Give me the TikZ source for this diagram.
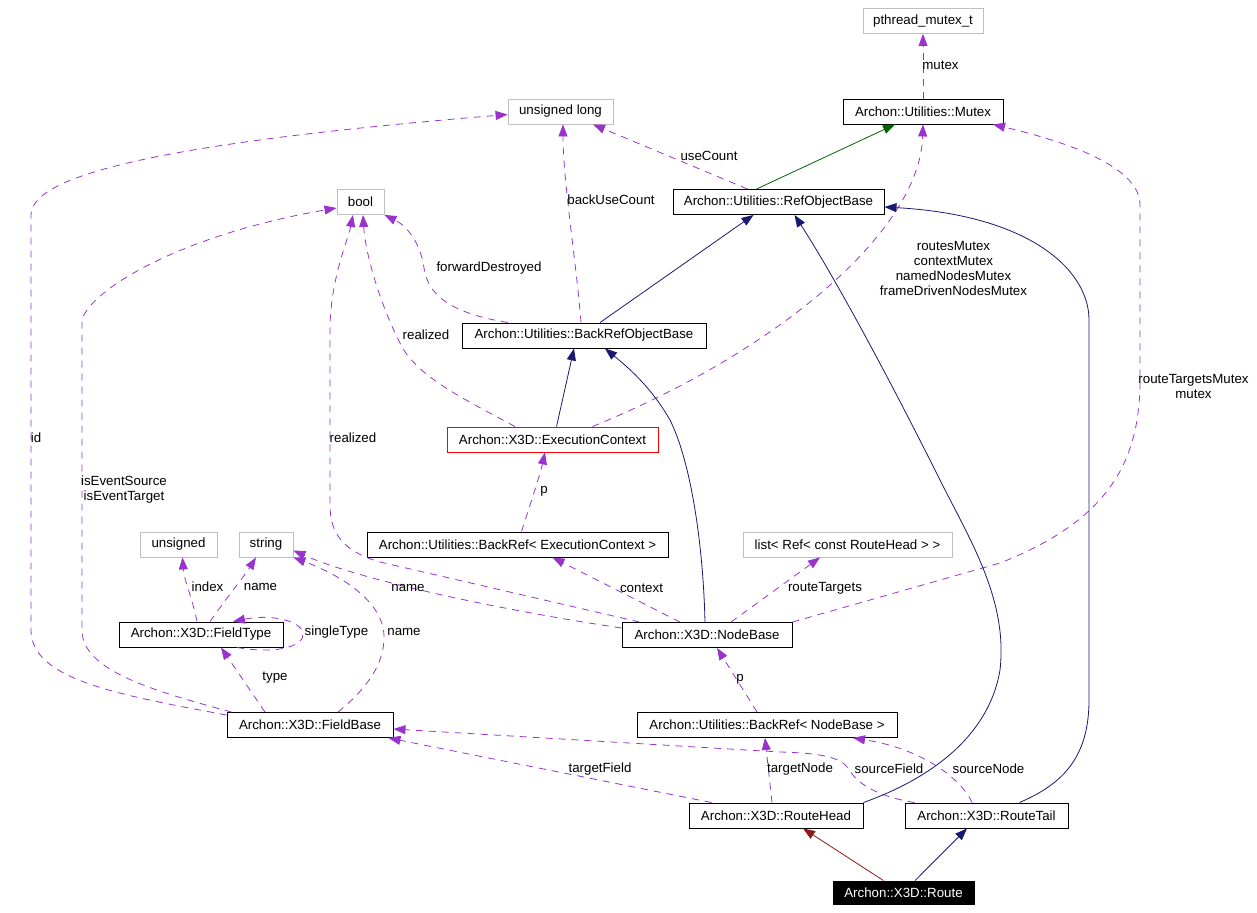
\documentclass[tikz,border=0pt]{standalone}
\usepackage{fontspec}
\setmainfont{Liberation Sans}
\usetikzlibrary{arrows.meta,calc}
\definecolor{purp}{HTML}{9A32CD}
\definecolor{mblue}{HTML}{191970}
\definecolor{dgreen}{HTML}{006400}
\definecolor{fred}{HTML}{8B1A1A}
\definecolor{grey75}{HTML}{BFBFBF}
\begin{document}
\begin{tikzpicture}[x=1pt,y=-1pt,
  font=\fontsize{13.3}{15}\selectfont,
  box/.style={draw=black, line width=0.9pt, fill=white, minimum height=25pt, inner sep=0pt, anchor=center},
  ext/.style={box, draw=grey75},
  redbox/.style={box, draw=red},
  cur/.style={box, fill=black, text=white, minimum height=23pt},
  lbl/.style={inner sep=0pt, align=center, font=\fontsize{13.3}{15}\selectfont},
  assoc/.style={draw=purp, line width=0.8pt, dash pattern=on 7pt off 6pt, -{Triangle[length=12pt,width=9pt]}},
  gen/.style={draw=mblue, line width=0.8pt, -{Triangle[length=12pt,width=9pt]}}]
\useasboundingbox (0,0) rectangle (1257,912);

% nodes
\node[ext, minimum width=120pt] (pth) at (923,21) {pthread\_mutex\_t};
\node[box, minimum width=160pt] (mutex) at (923,111.5) {Archon::Utilities::Mutex};
\node[ext, minimum width=105pt] (ulong) at (560.5,111.5) {unsigned long};
\node[box, minimum width=211pt] (refobj) at (778.5,202) {Archon::Utilities::RefObjectBase};
\node[ext, minimum width=47pt] (bool) at (360.5,202) {bool};
\node[box, minimum width=244pt] (backrefobj) at (584,335.5) {Archon::Utilities::BackRefObjectBase};
\node[redbox, minimum width=211pt] (exec) at (552.5,439.5) {Archon::X3D::ExecutionContext};
\node[box, minimum width=301pt] (brexec) at (517.5,544.5) {Archon::Utilities::BackRef< ExecutionContext >};
\node[ext, minimum width=209pt] (list) at (847.5,544.5) {list< Ref< const RouteHead > >};
\node[box, minimum width=170pt] (nodebase) at (707,635) {Archon::X3D::NodeBase};
\node[ext, minimum width=77pt] (unsigned) at (178.5,544.5) {unsigned};
\node[ext, minimum width=54pt] (string) at (266,544.5) {string};
\node[box, minimum width=164pt] (fieldtype) at (201,634.5) {Archon::X3D::FieldType};
\node[box, minimum width=166pt] (fieldbase) at (310,725) {Archon::X3D::FieldBase};
\node[box, minimum width=260pt] (brnode) at (767,725) {Archon::Utilities::BackRef< NodeBase >};
\node[box, minimum width=174pt] (rhead) at (776,815.5) {Archon::X3D::RouteHead};
\node[box, minimum width=163pt] (rtail) at (986.5,815.5) {Archon::X3D::RouteTail};
\node[cur, minimum width=141pt] (route) at (903.5,892.5) {Archon::X3D::Route};

% associations
\draw[assoc] (mutex.north) -- (pth.south);
\draw[assoc] ($(refobj.north)+(-31,0)$) -- ($(ulong.south)+(32.5,0)$);
\draw[assoc] ($(backrefobj.north)+(-3,0)$) .. controls (576,260) and (563,180) .. ($(ulong.south)+(2.5,0)$);
\draw[assoc] ($(backrefobj.north)+(-76,0)$) .. controls (450,313) and (428,295) .. (424,268) .. controls (420,240) and (405,225) .. (bool.south east);
\draw[assoc] ($(exec.north)+(-37.5,0)$) .. controls (460,397) and (415,375) .. (400,343) .. controls (378,300) and (365,250) .. ($(bool.south)+(2.5,0)$);
\draw[assoc] ($(nodebase.north west)+(18,0)$) -- (380,562) .. controls (345,552) and (330,535) .. (330,505) -- (330,330) .. controls (330,280) and (348,240) .. ($(bool.south)+(-7.5,0)$);
\draw[assoc] ($(fieldbase.north west)+(5,0)$) .. controls (150,690) and (82,670) .. (82,630) -- (82,320) .. controls (90,290) and (180,235) .. ($(bool.west)+(0,6)$);
\draw[assoc] ($(fieldbase.north west)+(0,3)$) .. controls (120,695) and (31,680) .. (31,630) -- (31,215) .. controls (31,170) and (200,140) .. ($(ulong.west)+(0,3)$);
\draw[assoc] ($(fieldtype.north)+(-4,0)$) .. controls (193,600) and (184,580) .. ($(unsigned.south)+(4,0)$);
\draw[assoc] ($(fieldtype.north)+(9,0)$) .. controls (225,600) and (245,575) .. ($(string.south)+(-10,0)$);
\draw[assoc] ($(fieldtype.south)+(36,0)$) .. controls (280,655) and (305,645) .. (303,633) .. controls (300,620) and (270,614) .. ($(fieldtype.north)+(32,0)$);
\draw[assoc] ($(fieldbase.north)+(-45,0)$) -- ($(fieldtype.south)+(20,0)$);
\draw[assoc] ($(fieldbase.north)+(28,0)$) .. controls (365,690) and (385,665) .. (384,635) .. controls (382,600) and (340,575) .. (string.south east);
\draw[assoc] ($(nodebase.west)+(0,-7)$) .. controls (500,610) and (360,580) .. ($(string.east)+(0,6)$);
\draw[assoc] ($(nodebase.north)+(-27,0)$) -- ($(brexec.south)+(35,0)$);
\draw[assoc] ($(nodebase.north)+(24,0)$) -- ($(list.south)+(-27.5,0)$);
\draw[assoc] (nodebase.north east) -- (1000,563) .. controls (1110,520) and (1140,460) .. (1140,380) -- (1140,205) .. controls (1140,170) and (1080,145) .. ($(mutex.south)+(70,0)$);
\draw[assoc] ($(exec.north)+(40,0)$) .. controls (780,350) and (920,230) .. (mutex.south);
\draw[assoc] ($(rhead.north west)+(23,0)$) -- ($(fieldbase.south east)+(-5,0)$);
\draw[assoc] ($(rhead.north)+(-4,0)$) -- ($(brnode.south)+(-2,0)$);
\draw[assoc] ($(rtail.north west)+(10,0)$) .. controls (870,795) and (855,780) .. (848,768) .. controls (840,757) and (820,753) .. (780,752) -- ($(fieldbase.east)+(0,4)$);
\draw[assoc] ($(rtail.north)+(-14.5,0)$) .. controls (965,785) and (930,750) .. ($(brnode.south)+(86,0)$);
\draw[assoc] ($(brexec.north)+(4,0)$) .. controls (530,505) and (540,475) .. ($(exec.south)+(-7.5,0)$);
\draw[assoc] ($(brnode.north)+(-10,0)$) -- ($(nodebase.south)+(10,0)$);

% generalizations
\draw[gen, draw=dgreen] ($(refobj.north)+(-22,0)$) -- ($(mutex.south)+(-28,0)$);
\draw[gen] ($(exec.north)+(4,0)$) -- ($(backrefobj.south)+(-10,0)$);
\draw[gen] ($(nodebase.north)+(-2,0)$) .. controls (703,540) and (690,460) .. (670,420) .. controls (650,385) and (625,365) .. ($(backrefobj.south)+(21,0)$);
\draw[gen] ($(backrefobj.north)+(16,0)$) -- ($(refobj.south)+(-25,0)$);
\draw[gen] (rhead.north east) .. controls (940,775) and (990,730) .. (1000,670) .. controls (1008,600) and (970,540) .. (940,480) .. controls (880,360) and (830,270) .. ($(refobj.south)+(16,0)$);
\draw[gen] ($(rtail.north)+(33,0)$) .. controls (1060,785) and (1089,760) .. (1089,700) -- (1089,320) .. controls (1089,270) and (1030,215) .. ($(refobj.east)+(0,5)$);
\draw[gen] ($(route.north)+(11.5,0)$) -- ($(rtail.south)+(-19.5,0)$);
\draw[gen, draw=fred] ($(route.north)+(-20,0)$) -- ($(rhead.south)+(27,0)$);

% labels
\node[lbl] (l1) at (940.5,65) {mutex};
\node[lbl] (l2) at (709,156) {useCount};
\node[lbl] (l3) at (611,200) {backUseCount};
\node[lbl] (l4) at (489,268) {forwardDestroyed};
\node[lbl] (l5) at (426,335) {realized};
\node[lbl] (l6) at (353,438) {realized};
\node[lbl] (l7) at (953.5,268.5) {routesMutex\\contextMutex\\namedNodesMutex\\frameDrivenNodesMutex};
\node[lbl] (l8) at (1193.5,386.5) {routeTargetsMutex\\mutex};
\node[lbl] (l9) at (36,438) {id};
\node[lbl] (l10) at (124,490) {isEventSource\\isEventTarget};
\node[lbl] (l11) at (544,491) {p};
\node[lbl] (l12) at (207.5,587) {index};
\node[lbl] (l13) at (260.5,587) {name};
\node[lbl] (l14) at (408,588) {name};
\node[lbl] (l15) at (641.5,588) {context};
\node[lbl] (l16) at (825,588) {routeTargets};
\node[lbl] (l17) at (336.5,632) {singleType};
\node[lbl] (l18) at (404,632) {name};
\node[lbl] (l19) at (275,678) {type};
\node[lbl] (l20) at (740,679) {p};
\node[lbl] (l21) at (600,769) {targetField};
\node[lbl] (l22) at (800,769) {targetNode};
\node[lbl] (l23) at (889,769) {sourceField};
\node[lbl] (l24) at (988.5,769) {sourceNode};
\end{tikzpicture}
\end{document}
